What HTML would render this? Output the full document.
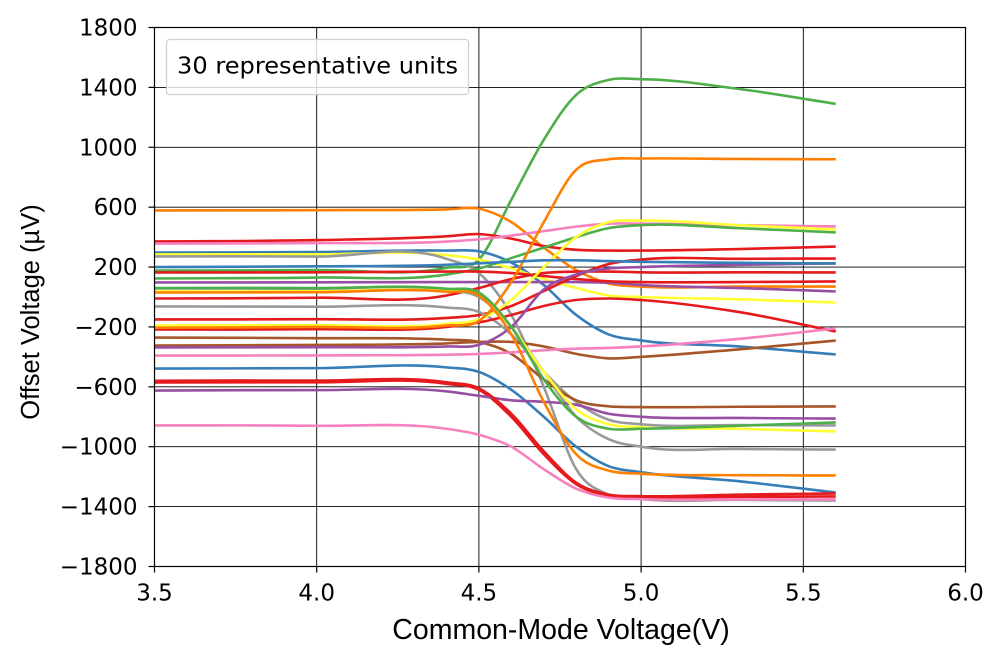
<!DOCTYPE html>
<html><head><meta charset="utf-8"><style>
body{margin:0;background:#fff;}
svg{display:block;}
text{font-family:"DejaVu Sans","Liberation Sans",sans-serif;fill:#000;}
</style></head><body>
<svg id="chart" width="1004" height="661" viewBox="0 0 1004 661">
<g id="grid"></g>
<g id="series"></g>
<rect x="154.5" y="27.5" width="811" height="539" fill="none" stroke="#000" stroke-width="1.2"/>
<g id="ticks"></g>
<text x="39" y="312" transform="rotate(-90 39 312)" text-anchor="middle" style="font-family:'Liberation Sans',sans-serif;font-size:25.5px">Offset Voltage (µV)</text>
<text x="561" y="639" text-anchor="middle" style="font-family:'Liberation Sans',sans-serif;font-size:28.5px">Common-Mode Voltage(V)</text>
<g>
<rect x="166.5" y="39.5" width="302" height="55" rx="3" fill="rgba(255,255,255,0.8)" stroke="#d0d0d0" stroke-width="1.2"/>
<text x="177" y="67" dominant-baseline="middle" textLength="281" lengthAdjust="spacingAndGlyphs" style="font-size:23px">30 representative units</text>
</g>
</svg>
<script>
const xPts = [3.5,4.0,4.4,4.5,4.6,4.7,4.8,4.9,5.0,5.3,5.6];
const xTicks = [3.5,4.0,4.5,5.0,5.5,6.0];
const yTicks = [-1800,-1400,-1000,-600,-200,200,600,1000,1400,1800];
const seriesColors = ["#4daf4a","#ff7f00","#e41a1c","#f781bf","#377eb8","#ffff33","#999999","#4daf4a","#984ea3","#e41a1c","#e41a1c","#e41a1c","#999999","#999999","#e41a1c","#ffff33","#ff7f00","#a65628","#a65628","#984ea3","#f781bf","#377eb8","#e41a1c","#984ea3","#f781bf","#ffff33","#ff7f00","#4daf4a","#377eb8","#e41a1c"];
const s01 = [177,180,195,250,650,1050,1350,1450,1455,1390,1290];
const s02 = [578,580,585,590,500,330,180,90,70,70,70];
const s03 = [371,380,405,420,390,340,315,310,310,320,337];
const s04 = [357,360,370,385,410,440,470,490,490,480,471];
const s05 = [297,300,310,305,230,80,-120,-250,-290,-330,-384];
const s06 = [284,285,280,250,190,120,60,10,0,-15,-37];
const s07 = [271,270,255,160,-120,-600,-1150,-1320,-1350,-1355,-1360];
const s08 = [124,130,150,190,260,330,400,460,480,460,431];
const s09 = [97,98,100,100,100,100,100,95,80,60,37];
const s10 = [164,165,170,170,160,140,120,105,100,100,104];
const s11 = [-10,-5,10,60,120,160,170,170,165,165,164];
const s12 = [-150,-148,-140,-120,-60,40,140,220,250,255,257];
const s13 = [57,55,45,0,-200,-500,-800,-950,-1000,-1015,-1019];
const s14 = [-63,-65,-70,-100,-250,-500,-700,-820,-850,-855,-858];
const s15 = [-217,-215,-200,-170,-120,-60,-20,-10,-20,-100,-230];
const s16 = [-190,-188,-180,-150,-20,200,400,500,510,480,451];
const s17 = [-205,-200,-190,-160,100,500,850,920,925,922,920];
const s18 = [-271,-275,-285,-300,-380,-550,-690,-730,-735,-733,-731];
const s19 = [-324,-320,-310,-300,-300,-330,-380,-410,-400,-350,-291];
const s20 = [-337,-335,-330,-320,-200,50,150,190,200,215,224];
const s21 = [-391,-390,-385,-380,-370,-355,-345,-340,-330,-280,-210];
const s22 = [-478,-475,-470,-500,-620,-800,-1000,-1130,-1170,-1230,-1306];
const s23 = [-571,-570,-580,-620,-800,-1050,-1250,-1330,-1340,-1335,-1332];
const s24 = [-625,-622,-630,-660,-690,-700,-720,-780,-800,-808,-812];
const s25 = [-858,-860,-880,-920,-1000,-1150,-1280,-1340,-1350,-1352,-1352];
const s26 = [37,38,40,20,-200,-500,-750,-850,-870,-880,-898];
const s27 = [30,32,35,10,-250,-700,-1050,-1160,-1180,-1190,-1192];
const s28 = [60,60,55,30,-200,-550,-800,-880,-880,-860,-838];
const s29 = [200,205,215,225,235,245,245,240,235,228,224];
const s30 = [-560,-558,-570,-610,-780,-1030,-1240,-1320,-1330,-1320,-1312];
const allSeries = [s01,s02,s03,s04,s05,s06,s07,s08,s09,s10,s11,s12,s13,s14,s15,s16,s17,s18,s19,s20,s21,s22,s23,s24,s25,s26,s27,s28,s29,s30];

const NS="http://www.w3.org/2000/svg";
const L=154.5,R=965.5,T=27.5,B=566.5;
function xs(v){return L+(v-3.5)/(6.0-3.5)*(R-L);}
function ys(v){return B-(v+1800)/3600*(B-T);}
function mk(tag,attrs,parent){const e=document.createElementNS(NS,tag);for(const k in attrs)e.setAttribute(k,attrs[k]);parent.appendChild(e);return e;}
const grid=document.getElementById('grid'),ticks=document.getElementById('ticks'),ser=document.getElementById('series');
xTicks.forEach(t=>{
  const x=xs(t);
  const g=mk('line',{x1:x,x2:x,y1:T,y2:B,stroke:'#000','stroke-width':0.9},grid);
  
  
  const tk=mk('line',{x1:x,x2:x,y1:B,y2:B+6,stroke:'#000','stroke-width':1.2},ticks);
  
  
  const tx=mk('text',{x:x,y:B+34,'text-anchor':'middle','font-size':23},ticks);
  tx.textContent=t.toFixed(1);
  
  
});
yTicks.forEach(t=>{
  const y=ys(t);
  const g=mk('line',{x1:L,x2:R,y1:y,y2:y,stroke:'#000','stroke-width':0.9},grid);
  
  
  const tk=mk('line',{x1:L-6,x2:L,y1:y,y2:y,stroke:'#000','stroke-width':1.2},ticks);
  
  
  const tx=mk('text',{x:L-17,y:y+8,'text-anchor':'end','font-size':23},ticks);
  tx.textContent=(t<0?'\u2212':'')+Math.abs(t);
  
  
});
function smooth(xv,yv){
  const n=xv.length,d=[],m=new Array(n);
  for(let i=0;i<n-1;i++)d.push((yv[i+1]-yv[i])/(xv[i+1]-xv[i]));
  m[0]=d[0];m[n-1]=d[n-2];
  for(let i=1;i<n-1;i++){const w1=xv[i+1]-xv[i],w0=xv[i]-xv[i-1];m[i]=(d[i-1]*w1+d[i]*w0)/(w0+w1);}
  let p='M'+xv[0].toFixed(2)+','+yv[0].toFixed(2);
  for(let i=0;i<n-1;i++){const h=xv[i+1]-xv[i];
    p+=' C'+(xv[i]+h/3).toFixed(2)+','+(yv[i]+m[i]*h/3).toFixed(2)+' '+(xv[i+1]-h/3).toFixed(2)+','+(yv[i+1]-m[i+1]*h/3).toFixed(2)+' '+xv[i+1].toFixed(2)+','+yv[i+1].toFixed(2);}
  return p;
}
const px=xPts.map(xs);
allSeries.forEach((s,i)=>{
  const path=mk('path',{d:smooth(px,s.map(ys)),fill:'none',stroke:seriesColors[i],'stroke-width':2.6,'stroke-linejoin':'round'},ser);
  
  
});
</script>
</body></html>
